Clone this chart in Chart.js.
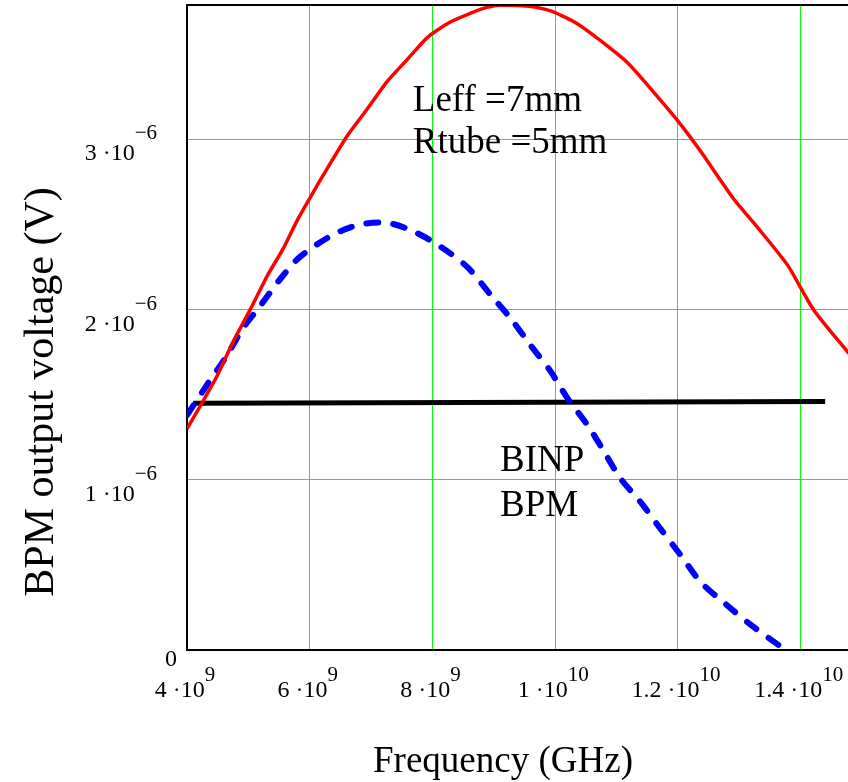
<!DOCTYPE html>
<html>
<head>
<meta charset="utf-8">
<title>BPM output voltage</title>
<script src="https://cdn.jsdelivr.net/npm/chart.js@4.4.1/dist/chart.umd.min.js"></script>
<style>
    html, body { margin: 0; padding: 0; background: #fff; overflow: hidden; }
    #bpm-chart { position: absolute; left: 0; top: 0; }
</style>
</head>
<body>
<canvas id="bpm-chart" width="870" height="782"></canvas>
<script>
// frequency in GHz, voltage in microvolts (1e-6 V)
const redFreq = [4.00, 4.21, 4.49, 4.75, 5.03, 5.31, 5.57, 5.79, 6.01, 6.22, 6.61, 6.94, 7.26, 7.59, 7.92, 8.29, 8.83, 9.11, 9.64, 9.97, 10.36, 10.74, 11.18, 11.67, 12.04, 12.37, 12.91, 13.35, 13.79, 14.21, 14.77, 15.00];
const redVolt = [1.30, 1.43, 1.61, 1.81, 2.00, 2.20, 2.36, 2.52, 2.66, 2.79, 3.02, 3.18, 3.34, 3.47, 3.60, 3.69, 3.77, 3.79, 3.78, 3.75, 3.68, 3.58, 3.45, 3.25, 3.09, 2.93, 2.65, 2.46, 2.26, 2.00, 1.75, 1.65];

const blueFreq = [4.00, 4.33, 4.65, 4.91, 5.19, 5.52, 5.84, 6.38, 6.82, 7.26, 7.69, 8.13, 8.57, 8.94, 9.27, 9.60, 9.92, 10.20, 10.53, 10.79, 11.06, 11.39, 11.72, 12.04, 12.37, 12.81, 13.18, 13.75];
const blueVolt = [1.38, 1.56, 1.73, 1.89, 2.02, 2.18, 2.31, 2.44, 2.50, 2.51, 2.46, 2.37, 2.25, 2.09, 1.95, 1.79, 1.64, 1.48, 1.32, 1.17, 1.01, 0.87, 0.71, 0.56, 0.40, 0.26, 0.15, 0.00];

const blackFreq = [4.1, 14.4];
const blackVolt = [1.45, 1.46];

const xTicks = [4, 6, 8, 10, 12, 14];
const xTickBase = ["4 \u00b710", "6 \u00b710", "8 \u00b710", "1 \u00b710", "1.2 \u00b710", "1.4 \u00b710"];
const xTickExp = ["9", "9", "9", "10", "10", "10"];

const yTicks = [0, 1, 2, 3];
const yTickBase = ["0", "1 \u00b710", "2 \u00b710", "3 \u00b710"];
const yTickExp = ["", "\u22126", "\u22126", "\u22126"];

const xTitle = "Frequency (GHz)";
const yTitle = "BPM output voltage (V)";
const notes = [
    { text: "Leff =7mm", x: 7.68, y: 3.17 },
    { text: "Rtube =5mm", x: 7.68, y: 2.92 },
    { text: "BINP", x: 9.10, y: 1.05 },
    { text: "BPM", x: 9.10, y: 0.785 }
];

const SERIF = '"Liberation Serif", "Times New Roman", serif';

function toPoints(xs, ys) {
    return xs.map((x, i) => ({ x: x, y: ys[i] }));
}

const textPlugin = {
    id: "mathcadText",
    afterDraw(chart) {
        const ctx = chart.ctx;
        const xs = chart.scales.x;
        const ys = chart.scales.y;
        const area = chart.chartArea;

        ctx.save();
        // top frame line
        ctx.strokeStyle = "#000";
        ctx.lineWidth = 2;
        ctx.beginPath();
        ctx.moveTo(area.left, area.top);
        ctx.lineTo(area.right, area.top);
        ctx.stroke();

        ctx.fillStyle = "#000";
        ctx.textBaseline = "alphabetic";
        ctx.textAlign = "left";

        // x tick labels
        xTicks.forEach((v, i) => {
            ctx.font = "24px " + SERIF;
            const wb = ctx.measureText(xTickBase[i]).width;
            ctx.font = "21px " + SERIF;
            const we = ctx.measureText(xTickExp[i]).width;
            const px = xs.getPixelForValue(v);
            const start = px - (wb + we) / 2 - 2;
            ctx.font = "24px " + SERIF;
            ctx.fillText(xTickBase[i], start, area.bottom + 47);
            ctx.font = "21px " + SERIF;
            ctx.fillText(xTickExp[i], start + wb, area.bottom + 31);
        });

        // y tick labels
        yTicks.forEach((v, i) => {
            const py = ys.getPixelForValue(v);
            if (!yTickExp[i]) {
                ctx.font = "24px " + SERIF;
                ctx.textAlign = "right";
                ctx.fillText(yTickBase[i], 177, py + 16);
                ctx.textAlign = "left";
                return;
            }
            ctx.font = "24px " + SERIF;
            const wb = ctx.measureText(yTickBase[i]).width;
            ctx.font = "21px " + SERIF;
            const we = ctx.measureText(yTickExp[i]).width;
            const start = 157 - wb - we;
            ctx.font = "24px " + SERIF;
            ctx.fillText(yTickBase[i], start, py + 21);
            ctx.font = "21px " + SERIF;
            ctx.fillText(yTickExp[i], start + wb, py);
        });

        // axis titles
        ctx.font = "37px " + SERIF;
        ctx.textAlign = "center";
        ctx.fillText(xTitle, 503, 772);
        ctx.save();
        ctx.font = "42px " + SERIF;
        ctx.translate(53, 392);
        ctx.rotate(-Math.PI / 2);
        ctx.fillText(yTitle, 0, 0);
        ctx.restore();

        // annotations
        ctx.font = "37px " + SERIF;
        ctx.textAlign = "left";
        notes.forEach(n => {
            ctx.fillText(n.text, xs.getPixelForValue(n.x), ys.getPixelForValue(n.y));
        });
        ctx.restore();
    }
};

const gridGreen = "#00ff00";

new Chart(document.getElementById("bpm-chart"), {
    type: "line",
    data: {
        datasets: [
            {
                label: "Leff = 7mm",
                data: toPoints(redFreq, redVolt),
                borderColor: "#ff0000",
                borderWidth: 3.5,
                pointRadius: 0,
                tension: 0.2,
                fill: false
            },
            {
                label: "model",
                data: toPoints(blueFreq, blueVolt),
                borderColor: "#0000ff",
                borderWidth: 6,
                borderDash: [12, 15],
                borderCapStyle: "round",
                pointRadius: 0,
                tension: 0.3,
                fill: false
            },
            {
                label: "BINP BPM",
                data: toPoints(blackFreq, blackVolt),
                borderColor: "#000000",
                borderWidth: 5,
                pointRadius: 0,
                fill: false
            }
        ]
    },
    options: {
        responsive: false,
        animation: false,
        devicePixelRatio: 1,
        layout: { padding: { top: 5, right: 8, left: 0, bottom: 0 } },
        plugins: {
            legend: { display: false },
            tooltip: { enabled: false }
        },
        scales: {
            x: {
                type: "linear",
                min: 4,
                max: 15,
                afterBuildTicks: scale => { scale.ticks = xTicks.map(v => ({ value: v })); },
                afterFit: scale => { scale.height = 132; },
                ticks: { display: false },
                grid: { color: gridGreen, lineWidth: 1, drawTicks: false },
                border: { color: "#000", width: 2 }
            },
            y: {
                type: "linear",
                min: 0,
                max: 3.79,
                afterBuildTicks: scale => { scale.ticks = yTicks.map(v => ({ value: v })); },
                afterFit: scale => { scale.width = 187; },
                ticks: { display: false },
                grid: { color: gridGreen, lineWidth: 1, drawTicks: false },
                border: { color: "#000", width: 2 }
            }
        }
    },
    plugins: [textPlugin]
});
</script>
</body>
</html>
